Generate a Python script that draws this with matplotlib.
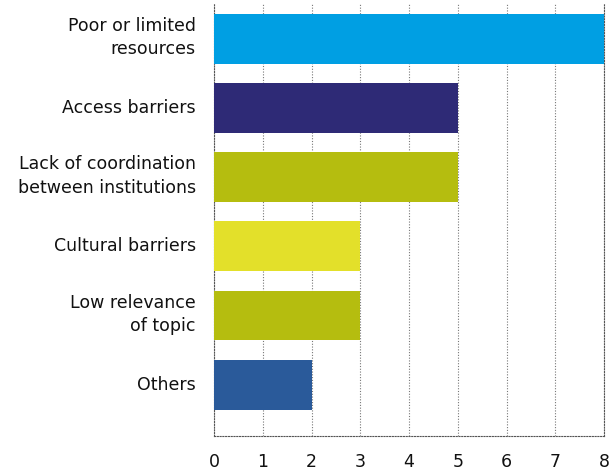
import matplotlib
matplotlib.use("Agg")
import matplotlib.pyplot as plt
from matplotlib.transforms import ScaledTranslation

categories = ["Poor or limited\nresources", "Access barriers",
              "Lack of coordination\nbetween institutions", "Cultural barriers",
              "Low relevance\nof topic", "Others"]
values = [8, 5, 5, 3, 3, 2]
colors = ["#009FE3", "#2E2A76", "#B5BD0F", "#E3E02A", "#B5BD0F", "#2A5A9A"]
xticks = [0, 1, 2, 3, 4, 5, 6, 7, 8]

plt.rcParams['font.family'] = ['DejaVu Sans']
fig = plt.figure(figsize=(6.09, 4.72), dpi=100)
ax = fig.add_axes([214/609, (472-436)/472, (604-214)/609, (436-4)/472])

y = list(range(len(categories)))
ax.barh(y, values, height=0.72, color=colors, zorder=3)
ax.set_xlim(0, 8)
ax.set_ylim(len(categories) - 1 + 0.74, -0.5)
ax.set_xticks(xticks)
ax.set_xticklabels([str(t) for t in xticks])
ax.set_yticks(y)
ax.set_yticklabels(categories, ha='right', multialignment='right', linespacing=1.4)
ax.tick_params(axis='both', length=0, labelsize=12.5, colors='#111111')
ax.tick_params(axis='x', pad=12.5)
ax.tick_params(axis='y', pad=13)
for lab in ax.get_yticklabels():
    dy = 6 if "\n" in lab.get_text() else 2
    lab.set_transform(lab.get_transform() + ScaledTranslation(0, dy / 100, fig.dpi_scale_trans))
ax.grid(axis='x', linestyle=(0, (1, 1.5)), color='#777777', linewidth=0.8, zorder=0)
ax.spines['top'].set_visible(False)
for s in ['left', 'bottom', 'right']:
    ax.spines[s].set_linestyle((0, (1, 1.5)))
    ax.spines[s].set_color('#555555')
    ax.spines[s].set_linewidth(0.8)

fig.savefig("out.png", dpi=100)
